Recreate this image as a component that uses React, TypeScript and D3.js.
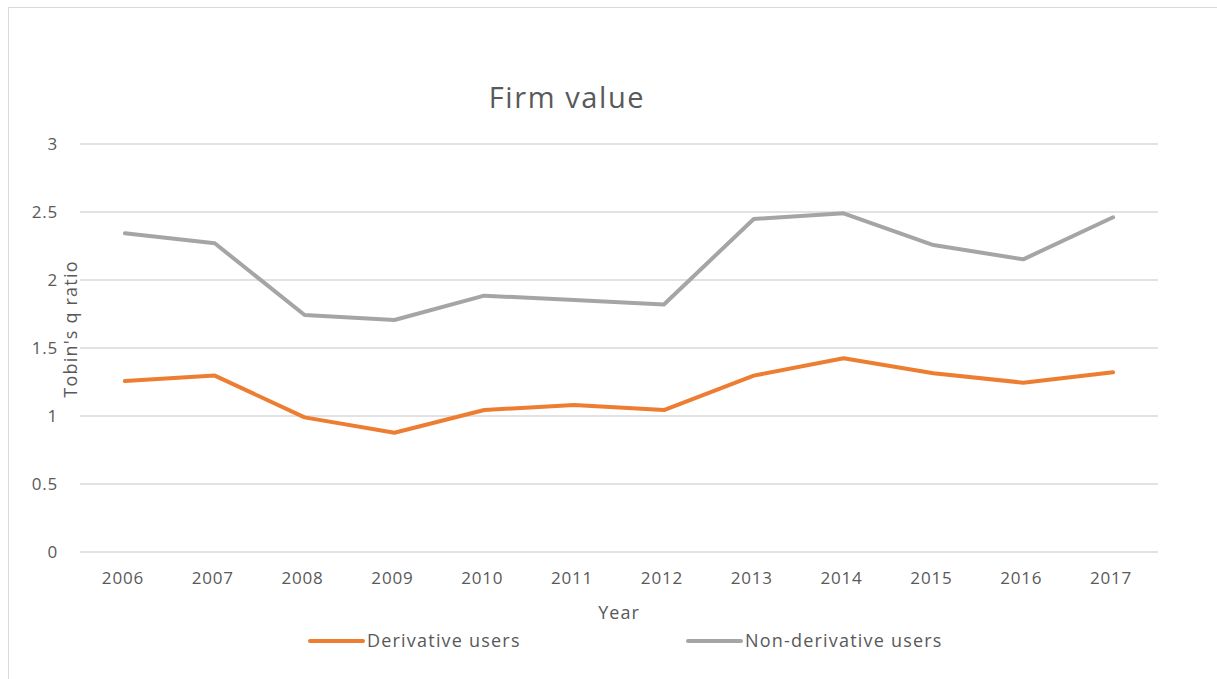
import React from "react";
import * as d3 from "d3";

const years = ["2006","2007","2008","2009","2010","2011","2012","2013","2014","2015","2016","2017"];
const derivativeUsers = [1.257, 1.297, 0.99, 0.877, 1.044, 1.081, 1.044, 1.297, 1.424, 1.314, 1.245, 1.321];
const nonDerivativeUsers = [2.343, 2.27, 1.743, 1.706, 1.885, 1.853, 1.82, 2.449, 2.49, 2.257, 2.152, 2.461];
const yTicks = [0, 0.5, 1, 1.5, 2, 2.5, 3];
const seriesNames = ["Derivative users", "Non-derivative users"];
const seriesColors = ["#ED7D31", "#A5A5A5"];

const W = 1217, H = 679;
const FONT = "'Open Sans', sans-serif";
const TEXT = "#595959";

export default function App() {
  const x = d3.scalePoint<string>().domain(years).range([80, 1158]).padding(0.5);
  const y = d3.scaleLinear().domain([0, 3]).range([552, 144]);
  const line = d3.line<number>().x((_, i) => x(years[i])!).y((d) => y(d));
  const series = [derivativeUsers, nonDerivativeUsers];
  const legendX = [310, 688];
  return (
    <svg width={W} height={H} style={{ position: "absolute", left: 0, top: 0 }}>
      <rect x={0} y={0} width={W} height={H} fill="#fff" />
      <line x1={8} y1={7.5} x2={W} y2={7.5} stroke="#d9d9d9" />
      <line x1={8.5} y1={7} x2={8.5} y2={H} stroke="#d9d9d9" />
      <text x={567} y={108} textAnchor="middle" fontFamily={FONT} fontSize={29} letterSpacing={1.6} fill={TEXT}>Firm value</text>
      {yTicks.map((t) => (
        <g key={t}>
          <line x1={80} x2={1158} y1={y(t)} y2={y(t)} stroke="#d9d9d9" strokeWidth={1.3} />
          <text x={58} y={y(t) + 6} textAnchor="end" fontFamily={FONT} fontSize={17} letterSpacing={0.8} fill={TEXT}>{t}</text>
        </g>
      ))}
      {years.map((yr) => (
        <text key={yr} x={x(yr)! - 2} y={584} textAnchor="middle" fontFamily={FONT} fontSize={17} letterSpacing={0.8} fill={TEXT}>{yr}</text>
      ))}
      <text x={619} y={619} textAnchor="middle" fontFamily={FONT} fontSize={18} letterSpacing={1} fill={TEXT}>Year</text>
      <text transform="translate(77,329) rotate(-90)" textAnchor="middle" fontFamily={FONT} fontSize={18} letterSpacing={1.2} fill={TEXT}>Tobin's q ratio</text>
      {series.map((s, i) => (
        <path key={i} d={line(s)!} fill="none" stroke={seriesColors[i]} strokeWidth={4} strokeLinejoin="round" strokeLinecap="round" />
      ))}
      {seriesNames.map((n, i) => (
        <g key={n}>
          <line x1={legendX[i]} x2={legendX[i] + 53} y1={641} y2={641} stroke={seriesColors[i]} strokeWidth={4} strokeLinecap="round" />
          <text x={legendX[i] + 57} y={647} fontFamily={FONT} fontSize={18} letterSpacing={1.2} fill={TEXT}>{n}</text>
        </g>
      ))}
    </svg>
  );
}
